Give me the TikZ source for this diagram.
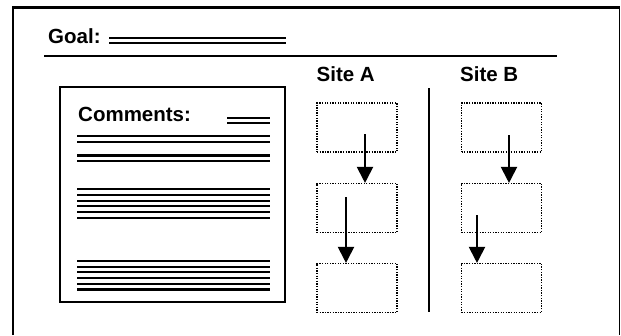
\documentclass[tikz,border=0pt]{standalone}
\usepackage{fontspec}
\setmainfont{Liberation Sans}
\usetikzlibrary{arrows.meta}
\begin{document}
\begin{tikzpicture}[x=1pt,y=-1pt,
  lbl/.style={font=\bfseries\fontsize{20.5}{24}\selectfont,anchor=base west,inner sep=0pt},
  rule/.style={line width=2pt},
  txtline/.style={line width=2.2pt},
  dotbox/.style={draw,line width=1.1pt,dash pattern=on 1.3pt off 1.3pt,minimum width=80pt,minimum height=49pt,inner sep=0pt},
  arr/.style={line width=2pt,-{Triangle[width=16pt,length=16pt]}}]
\useasboundingbox (0,0) rectangle (621,335);
% outer frame
\draw[line width=2.5pt] (13,335) -- (13,7.5) -- (619.5,7.5);
\draw[line width=1.5pt] (619.5,7.5) -- (619.5,335);
% goal
\node[lbl] (goal) at (48,43.5) {Goal:};
\draw[txtline] (109,38) -- (286,38);
\draw[txtline] (109,43) -- (286,43);
\draw[rule] (44,56) -- (557,56);
% comments box
\node[draw,line width=2pt,minimum width=225pt,minimum height=215pt,inner sep=0pt] (cbox) at (172.5,194.5) {};
\node[lbl] (ctext) at (78,121.5) {Comments:};
\draw[txtline] (227,118) -- (270,118);
\draw[txtline] (227,123) -- (270,123);
\foreach \yy in {136,142,155.5,161,189,195,200.7,206.3,212,217.7,261,266.7,272.3,278,284,289.5}
  \draw[txtline] (77,\yy) -- (270,\yy);
% sites
\node[lbl] (siteA) at (316.5,81.7) {Site A};
\node[lbl] (siteB) at (460,81.7) {Site B};
\draw[rule] (429,88) -- (429,312);
\node[dotbox] (a1) at (357,127.5) {};
\node[dotbox] (a2) at (357,208) {};
\node[dotbox] (a3) at (357,288) {};
\node[dotbox] (b1) at (501.5,127.5) {};
\node[dotbox] (b2) at (501.5,208) {};
\node[dotbox] (b3) at (501.5,288) {};
\coordinate (sa1) at (365,134);
\coordinate (sa2) at (346,197);
\coordinate (sb1) at (509,135);
\coordinate (sb2) at (477,215);
\draw[arr] (sa1) -- (sa1 |- a2.north);
\draw[arr] (sa2) -- (sa2 |- a3.north);
\draw[arr] (sb1) -- (sb1 |- b2.north);
\draw[arr] (sb2) -- (sb2 |- b3.north);
\end{tikzpicture}
\end{document}
